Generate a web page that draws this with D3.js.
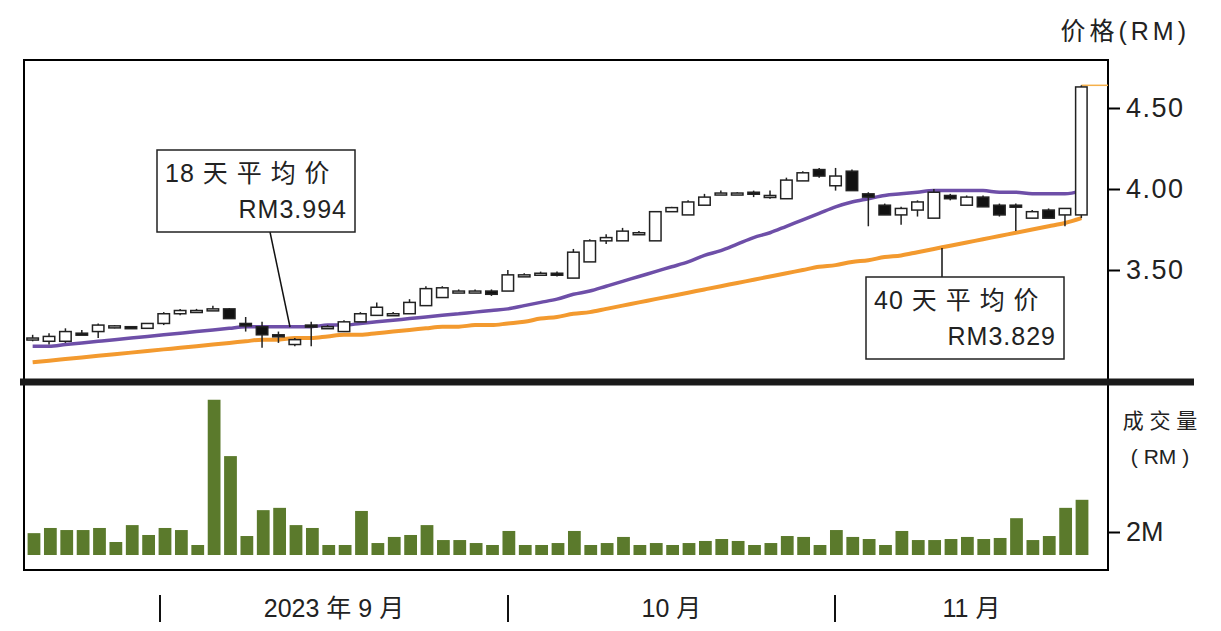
<!DOCTYPE html>
<html><head><meta charset="utf-8">
<script src="https://cdn.jsdelivr.net/npm/d3@7"></script>
<style>body{margin:0;background:#fff}text{font-family:"Liberation Sans","Noto Sans CJK SC",sans-serif}</style>
</head><body><svg id="c" width="1221" height="631"></svg>
<script>
// candles: [open, high, low, close]
const candles = [
[3.08,3.10,3.06,3.08],[3.06,3.11,3.04,3.09],[3.06,3.14,3.05,3.12],[3.11,3.13,3.10,3.10],[3.12,3.17,3.08,3.16],
[3.155,3.16,3.14,3.155],[3.15,3.155,3.14,3.14],[3.14,3.17,3.14,3.17],[3.17,3.24,3.16,3.23],[3.23,3.26,3.22,3.25],
[3.25,3.26,3.24,3.25],[3.26,3.28,3.26,3.26],[3.26,3.265,3.20,3.20],[3.17,3.21,3.12,3.155],[3.15,3.18,3.02,3.10],
[3.10,3.12,3.05,3.09],[3.04,3.08,3.03,3.07],[3.16,3.18,3.03,3.15],[3.15,3.16,3.14,3.15],[3.12,3.19,3.12,3.18],
[3.18,3.24,3.18,3.23],[3.22,3.30,3.22,3.27],[3.23,3.24,3.23,3.23],[3.23,3.32,3.23,3.30],[3.28,3.40,3.28,3.385],
[3.33,3.40,3.33,3.39],[3.37,3.38,3.36,3.37],[3.37,3.38,3.36,3.37],[3.37,3.38,3.34,3.35],[3.37,3.50,3.37,3.47],
[3.47,3.48,3.46,3.47],[3.48,3.49,3.47,3.48],[3.48,3.49,3.46,3.47],[3.45,3.63,3.45,3.61],[3.55,3.69,3.55,3.68],
[3.68,3.72,3.66,3.70],[3.68,3.76,3.68,3.74],[3.73,3.74,3.72,3.73],[3.68,3.86,3.68,3.86],[3.86,3.89,3.86,3.885],
[3.84,3.93,3.84,3.92],[3.90,3.97,3.90,3.95],[3.975,3.99,3.97,3.975],[3.975,3.98,3.97,3.975],[3.98,3.99,3.95,3.97],
[3.96,3.99,3.94,3.96],[3.94,4.07,3.94,4.055],[4.05,4.11,4.05,4.10],[4.12,4.13,4.07,4.08],[4.02,4.13,3.99,4.08],
[4.11,4.12,3.99,3.99],[3.97,3.98,3.77,3.95],[3.90,3.91,3.84,3.84],[3.84,3.89,3.78,3.88],[3.87,3.93,3.83,3.92],
[3.82,4.00,3.82,3.98],[3.96,3.97,3.93,3.94],[3.90,3.96,3.90,3.95],[3.95,3.96,3.89,3.89],[3.90,3.91,3.83,3.84],
[3.90,3.91,3.74,3.89],[3.82,3.87,3.82,3.86],[3.87,3.88,3.82,3.82],[3.84,3.88,3.77,3.88],[3.84,4.64,3.82,4.63]
];
const ma18 = [3.03,3.03,3.04,3.05,3.06,3.07,3.08,3.09,3.10,3.11,3.12,3.13,3.14,3.15,3.15,3.15,3.15,3.15,3.16,3.16,3.17,3.18,3.19,3.20,3.21,3.22,3.23,3.24,3.25,3.26,3.28,3.30,3.32,3.35,3.37,3.40,3.43,3.46,3.49,3.52,3.55,3.59,3.62,3.66,3.70,3.73,3.77,3.81,3.85,3.89,3.92,3.94,3.96,3.97,3.98,3.99,3.99,3.99,3.99,3.98,3.98,3.97,3.97,3.97,3.99];
const ma40 = [2.93,2.94,2.95,2.96,2.97,2.98,2.99,3.00,3.01,3.02,3.03,3.04,3.05,3.06,3.07,3.07,3.08,3.08,3.09,3.10,3.10,3.11,3.12,3.13,3.14,3.15,3.15,3.16,3.16,3.17,3.18,3.20,3.21,3.23,3.24,3.26,3.28,3.30,3.32,3.34,3.36,3.38,3.40,3.42,3.44,3.46,3.48,3.50,3.52,3.53,3.55,3.56,3.58,3.59,3.61,3.63,3.65,3.67,3.69,3.71,3.73,3.75,3.77,3.79,3.82];
// volume in millions
const volume = [1.9,2.35,2.17,2.17,2.35,1.13,2.6,1.74,2.35,2.17,0.87,13.5,8.6,1.65,3.9,4.1,2.6,2.35,0.87,0.87,3.83,1.04,1.57,1.74,2.6,1.3,1.3,1.04,0.87,2.09,0.87,0.87,1.04,2.09,0.87,1.04,1.57,0.87,1.04,0.87,1.04,1.22,1.39,1.22,0.87,1.04,1.65,1.57,0.87,2.17,1.57,1.39,0.87,2.09,1.3,1.3,1.39,1.57,1.39,1.48,3.2,1.3,1.65,4.1,4.8];
const priceTicks = [3.5,4.0,4.5];
const volTicks = [2];
const monthLabels = [{t:"2023 年 9 月",x:[160,508]},{t:"10 月",x:[508,835]},{t:"11 月",x:[835,1108]}];

const svg = d3.select("#c");
const n = candles.length;
const x = d3.scaleBand().domain(d3.range(n)).range([22,1092]).padding(0.3);
const cx = i => x(i) + x.bandwidth()/2;
const y = d3.scaleLinear().domain([3.5,4.0]).range([270,189]);
const yv = d3.scaleLinear().domain([0,2]).range([555,532]);

svg.append("rect").attr("x",24).attr("y",60).attr("width",1084).attr("height",322).attr("fill","none").attr("stroke","#000").attr("stroke-width",2);
svg.append("rect").attr("x",24).attr("y",382).attr("width",1084).attr("height",188).attr("fill","none").attr("stroke","#000").attr("stroke-width",2);
svg.append("line").attr("x1",20).attr("x2",1194).attr("y1",382).attr("y2",382).attr("stroke","#1a1a1a").attr("stroke-width",7);

const pa = svg.append("g").attr("transform","translate(1108,0)").call(d3.axisRight(y).tickValues(priceTicks).tickFormat(d3.format(".2f")).tickSize(12).tickPadding(6));
pa.select(".domain").remove();
pa.selectAll("text").attr("font-size",27).attr("fill","#222").attr("letter-spacing",1.5);
pa.selectAll("line").attr("stroke","#000").attr("stroke-width",2);
svg.append("text").attr("x",1190).attr("y",40).attr("text-anchor","end").attr("font-size",25).attr("fill","#222").attr("letter-spacing",4).text("价格(RM)");

const va = svg.append("g").attr("transform","translate(1108,0)").call(d3.axisRight(yv).tickValues(volTicks).tickFormat(d=>d+"M").tickSize(12).tickPadding(6));
va.select(".domain").remove();
va.selectAll("text").attr("font-size",27).attr("fill","#222");
va.selectAll("line").attr("stroke","#000").attr("stroke-width",2);
svg.append("text").attr("x",1160).attr("y",428).attr("text-anchor","middle").attr("font-size",21).attr("fill","#222").text("成 交 量");
svg.append("text").attr("x",1160).attr("y",464).attr("text-anchor","middle").attr("font-size",21).attr("fill","#222").text("( RM )");

const line = d3.line().x((d,i)=>cx(i)).y(d=>y(d)).curve(d3.curveMonotoneX);
svg.append("path").attr("d",line(ma40)).attr("fill","none").attr("stroke","#f39a2f").attr("stroke-width",4);
svg.append("path").attr("d",line(ma18)).attr("fill","none").attr("stroke","#6e4fa8").attr("stroke-width",3.5);
svg.append("line").attr("x1",cx(n-1)).attr("x2",1108).attr("y1",y(4.64)).attr("y2",y(4.64)).attr("stroke","#f5b04a").attr("stroke-width",1.5);

const g = svg.append("g");
candles.forEach((c,i)=>{
  const [o,h,l,cl]=c, up = cl>=o;
  g.append("line").attr("x1",cx(i)).attr("x2",cx(i)).attr("y1",y(h)).attr("y2",y(l)).attr("stroke","#222").attr("stroke-width",1.5);
  const top=y(Math.max(o,cl)), bot=y(Math.min(o,cl));
  g.append("rect").attr("x",x(i)).attr("width",x.bandwidth()).attr("y",top).attr("height",Math.max(bot-top,2))
   .attr("fill",up?"#fff":"#111").attr("stroke","#222").attr("stroke-width",1.5);
});

const xv = d3.scaleBand().domain(d3.range(n)).range([24,1092]).padding(0.22);
svg.append("g").selectAll("rect").data(volume).join("rect")
 .attr("x",(d,i)=>xv(i)).attr("width",xv.bandwidth()).attr("y",d=>yv(d)).attr("height",d=>yv(0)-yv(d)).attr("fill","#5b7a2c");

function callout(bx,by,w,h,l1,l2,lx1,ly1,lx2,ly2){
  svg.append("line").attr("x1",lx1).attr("y1",ly1).attr("x2",lx2).attr("y2",ly2).attr("stroke","#111").attr("stroke-width",1.5);
  svg.append("rect").attr("x",bx).attr("y",by).attr("width",w).attr("height",h).attr("fill","#fff").attr("stroke","#222").attr("stroke-width",1.5);
  svg.append("text").attr("x",bx+8).attr("y",by+32).attr("font-size",25).attr("fill","#222").attr("letter-spacing",1).text(l1);
  svg.append("text").attr("x",bx+w-8).attr("y",by+68).attr("text-anchor","end").attr("font-size",25).attr("fill","#222").attr("letter-spacing",1).text(l2);
}
callout(157,150,198,82,"18 天 平 均 价","RM3.994",270,232,290,327);
callout(866,277,198,82,"40 天 平 均 价","RM3.829",942,277,942,248);

monthLabels.forEach(m=>{
  svg.append("line").attr("x1",m.x[0]).attr("x2",m.x[0]).attr("y1",595).attr("y2",622).attr("stroke","#111").attr("stroke-width",2);
  svg.append("text").attr("x",(m.x[0]+m.x[1])/2).attr("y",617).attr("text-anchor","middle").attr("font-size",25).attr("fill","#222").text(m.t);
});
</script></body></html>
